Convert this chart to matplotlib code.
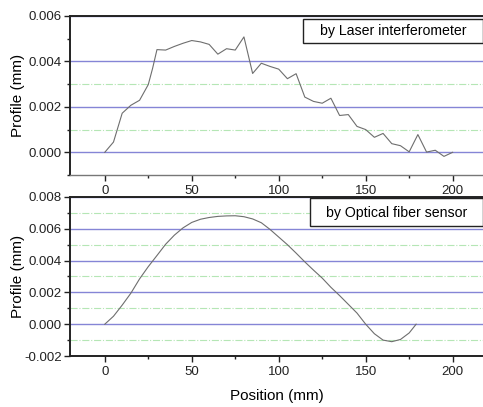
import numpy as np
import matplotlib
matplotlib.use('Agg')
import matplotlib.pyplot as plt
from matplotlib.patches import Rectangle
from matplotlib.ticker import MultipleLocator

plt.rcParams['font.family'] = ['Liberation Sans', 'DejaVu Sans']

# Laser interferometer profile
laser_x = [0, 5, 10, 15, 20, 25, 27.5, 30, 35, 40, 45, 50, 55, 60, 65, 70, 75, 80,
           85, 90, 95, 100, 105, 110, 115, 120, 125, 130, 135, 140, 145, 150, 155,
           160, 165, 170, 175, 180, 185, 190, 195, 200]
laser_y = [0.0, 0.00045, 0.00172, 0.00207, 0.00229, 0.00298, 0.0037, 0.00452,
           0.00450, 0.00466, 0.00480, 0.00492, 0.00486, 0.00475, 0.00432, 0.00456,
           0.00450, 0.00508, 0.00347, 0.00392, 0.00378, 0.00366, 0.00324, 0.00346,
           0.00243, 0.00224, 0.00216, 0.00238, 0.00162, 0.00166, 0.00114, 0.00100,
           0.00066, 0.00083, 0.00038, 0.00029, 0.00002, 0.00078, 0.00001, 0.00009,
           -0.00018, 0.0]

# Optical fiber sensor profile
fiber_x = [0, 5, 10, 15, 20, 25, 30, 35, 40, 45, 50, 55, 60, 65, 70, 75, 80, 85,
           90, 95, 100, 105, 110, 115, 120, 125, 130, 135, 140, 145, 150, 155, 160,
           165, 170, 175, 179]
fiber_y = [0.0, 0.00050, 0.00120, 0.00195, 0.00285, 0.00362, 0.00432, 0.00503,
           0.00560, 0.00606, 0.00640, 0.00660, 0.00671, 0.00678, 0.00681, 0.00682,
           0.00676, 0.00662, 0.00638, 0.00596, 0.00548, 0.00500, 0.00447, 0.00392,
           0.00340, 0.00290, 0.00232, 0.00180, 0.00125, 0.00070, 0.0, -0.00060,
           -0.00100, -0.00110, -0.00096, -0.00055, 0.0]

# minor (dash-dot) grid levels shown in each panel
laser_minor = [0.001, 0.003]
fiber_minor = [-0.001, 0.001, 0.003, 0.005, 0.007]

panels = [
    (laser_x, laser_y, 'by Laser interferometer', (-0.001, 0.006), laser_minor,
     [0.570, 0.3907], (0.562, 0.830, 0.151), (0.78, 0.906)),
    (fiber_x, fiber_y, 'by Optical fiber sensor', (-0.002, 0.008), fiber_minor,
     [0.1253, 0.3907], (0.579, 0.818, 0.176), (0.789, 0.899)),
]

fig = plt.figure(figsize=(4.83, 4.07), dpi=100)

axes = []
for x, y, label, ylim, minor, (bot, h), box, txt in panels:
    ax = fig.add_axes([70 / 483, bot, 1 - 70 / 483 + 0.002, h])
    axes.append(ax)
    ax.plot(x, y, color='#6e6e6e', lw=0.8, zorder=3)
    ax.set_xlim(-20, 218)
    ax.set_ylim(*ylim)
    ax.xaxis.set_major_locator(MultipleLocator(50))
    ax.xaxis.set_minor_locator(MultipleLocator(25))
    ax.yaxis.set_major_locator(MultipleLocator(0.002))
    ax.yaxis.set_minor_locator(MultipleLocator(0.001))
    ax.yaxis.set_major_formatter(matplotlib.ticker.FormatStrFormatter('%.3f'))
    ax.grid(True, which='major', axis='y', color='#8585d6', lw=1.0)
    for m in minor:
        ax.axhline(m, color='#b5e6b5', lw=0.8, ls='-.', zorder=1)
    ax.set_axisbelow(True)
    ax.tick_params(which='major', direction='out', length=4, width=1,
                   labelsize=9.5, pad=2, colors='#222222')
    ax.tick_params(axis='x', which='major', pad=3)
    ax.tick_params(which='minor', direction='out', length=2, width=1,
                   colors='#222222')
    ax.set_ylabel('Profile (mm)', fontsize=11)
    for s in ['left', 'bottom', 'top']:
        ax.spines[s].set_linewidth(1.4)
        ax.spines[s].set_color('#222222')
    ax.spines['right'].set_visible(False)

    ax.add_patch(Rectangle((box[0], box[1]), 1 - box[0] - 0.003, box[2],
                           transform=ax.transAxes, facecolor='white',
                           edgecolor='#222222', lw=1.0, zorder=5))
    ax.text(txt[0], txt[1], label, transform=ax.transAxes, fontsize=10.2,
            ha='center', va='center', zorder=6)

axes[0].spines['bottom'].set_linewidth(1.0)
axes[0].spines['bottom'].set_color('#777777')
axes[1].set_xlabel('Position (mm)', fontsize=11, labelpad=8)
axes[0].yaxis.set_label_coords(-0.108, 0.5)
axes[1].yaxis.set_label_coords(-0.108, 0.5)

fig.savefig('out.png', dpi=100)
